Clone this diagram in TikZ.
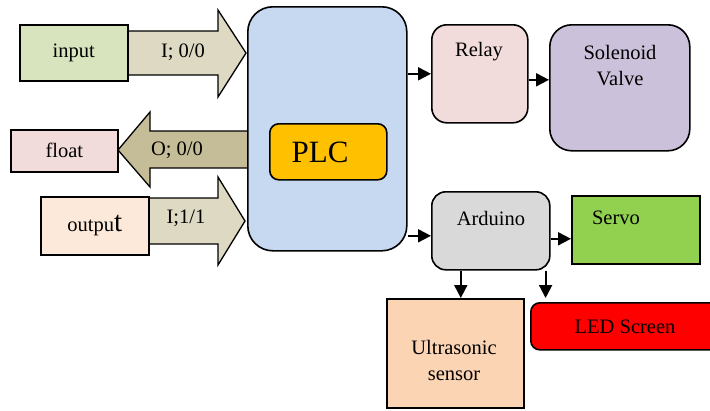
\documentclass[tikz,border=0pt]{standalone}
\usepackage{fontspec}
\setmainfont{Liberation Serif}
\usetikzlibrary{arrows.meta,positioning}

\definecolor{inpgreen}{HTML}{D7E4BD}
\definecolor{pinkish}{HTML}{F2DCDB}
\definecolor{peach}{HTML}{FDE9D9}
\definecolor{fatin}{HTML}{DDD9C3}
\definecolor{fatout}{HTML}{C4BD97}
\definecolor{plcblue}{HTML}{C6D9F1}
\definecolor{plcgold}{HTML}{FFC000}
\definecolor{lilac}{HTML}{CCC1DA}
\definecolor{ardgray}{HTML}{D9D9D9}
\definecolor{servogreen}{HTML}{92D050}
\definecolor{sonic}{HTML}{FBD4B4}

\tikzset{
  blk/.style={draw=black, line width=1.6pt, inner sep=0pt, anchor=north west},
  rblk/.style={blk, rounded corners=#1},
  rblk/.default=15pt,
  fat/.style={draw=black, line width=1.3pt, line join=miter},
  lnk/.style={line width=2pt, -{Triangle[length=13pt,width=13pt]}},
  txt/.style={inner sep=0pt, align=center},
}

\begin{document}
\begin{tikzpicture}[x=1pt, y=-1pt, font=\fontsize{20.5}{26}\selectfont]
  \clip (0,0) rectangle (710,410);

  % fat arrows to and from the PLC
  \draw[fat, fill=fatin] (127,31) -- (218,31) -- (218,10) -- (246,53)
        -- (218,97) -- (218,75) -- (127,75) -- cycle;
  \node[txt] (inlab) at (183,52) {I; 0/0};
  \draw[fat, fill=fatout] (248,131) -- (150,131) -- (150,112) -- (118,150)
        -- (150,187) -- (150,168) -- (248,168) -- cycle;
  \node[txt] (outlab) at (177,150) {O; 0/0};
  \draw[fat, fill=fatin] (148,198) -- (218,198) -- (218,177) -- (245,221)
        -- (218,265) -- (218,244) -- (148,244) -- cycle;
  \node[txt] (in2lab) at (186,218) {I;1/1};

  % left column
  \node[blk, fill=inpgreen, minimum width=108pt, minimum height=56pt] (inp) at (19,24) {input};
  \node[blk, fill=pinkish, minimum width=107pt, minimum height=42pt] (flt) at (10,129) {float};
  \node[blk, fill=peach, minimum width=108pt, minimum height=58pt] (outp) at (40,196)
        {outpu{\fontsize{29}{30}\selectfont t}};

  % PLC
  \node[rblk=25pt, fill=plcblue, minimum width=159pt, minimum height=244pt] (plc) at (247,6) {};
  \node[rblk=9pt, fill=plcgold, minimum width=117pt, minimum height=56pt] (plcin) at (269,123) {};
  \node[txt, font=\fontsize{31}{34}\selectfont] (plctxt) at (320,152) {PLC};

  % relay branch
  \node[rblk, fill=pinkish, minimum width=96pt, minimum height=98pt] (relay) at (431,24) {};
  \node[txt] (relaytxt) at (479,52) {Relay};
  \node[rblk=22pt, fill=lilac, minimum width=140pt, minimum height=126pt] (sol) at (549,24) {};
  \node[txt] (soltxt) at (620,66) {Solenoid\\Valve};

  % arduino branch
  \node[rblk=14pt, fill=ardgray, minimum width=118pt, minimum height=78pt] (ard) at (431,191) {};
  \node[txt] (ardtxt) at (491,218) {Arduino};
  \node[blk, fill=servogreen, minimum width=128pt, minimum height=68pt] (servo) at (571,195) {};
  \node[txt] (servotxt) at (616,218) {Servo};
  \node[blk, fill=sonic, minimum width=137pt, minimum height=109pt] (sonar) at (386,298) {};
  \node[txt] (sonartxt) at (454,360) {Ultrasonic\\sensor};
  \node[rblk=9pt, fill=red, minimum width=190pt, minimum height=47pt] (led) at (530,302) {};
  \node[txt] (ledtxt) at (625,327) {LED Screen};

  % connectors
  \draw[lnk] (plc.east |- relay.west) -- (relay.west);
  \draw[lnk] ([yshift=-6pt]relay.east) -- ([yshift=-6pt]relay.east -| sol.west);
  \draw[lnk] ([yshift=-5pt]plc.east |- ard.west) -- ([yshift=-5pt]ard.west);
  \draw[lnk] ([yshift=-8pt]ard.east) -- ([yshift=-8pt]ard.east -| servo.west);
  \draw[lnk] ([xshift=-30pt]ard.south) -- ([xshift=-30pt]ard.south |- sonar.north);
  \draw[lnk] ([xshift=-5pt]ard.south east) -- ([xshift=-5pt,yshift=4pt]ard.south east |- led.north);
\end{tikzpicture}
\end{document}
